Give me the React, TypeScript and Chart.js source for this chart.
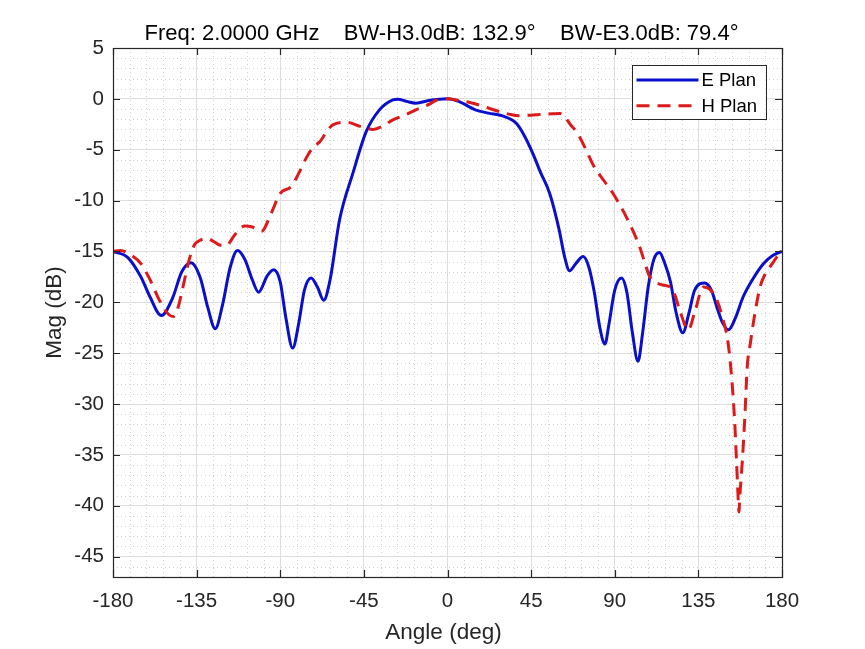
import React, { useEffect, useRef } from "react";
import { Chart, registerables } from "chart.js";

Chart.register(...registerables);

// ---- data ----
const eAngles = [
  -180, -172, -165, -160, -154, -148, -143, -138, -133, -129, -125, -121, -117, -113, -109, -105,
  -101.7, -97, -93.6, -90, -87, -83.3, -80, -77, -73.4, -70, -66.6, -63.2, -58.1, -50.9, -43.7,
  -36.6, -29.4, -26.7, -22, -17, -10, 0, 6, 15, 22, 30, 37, 41, 46, 50, 55, 60, 63, 65.7, 69, 73,
  76, 79, 82, 84.7, 87, 90, 93.6, 96.5, 99.5, 102.5, 105, 108, 111, 114, 117, 120, 123, 126.6,
  130, 133, 138.4, 142, 145, 148, 151.2, 155, 159, 164, 170, 175, 180,
];
const eMag = [
  -15, -15.6, -17.5, -19.5, -21.3, -19.6, -17, -16.1, -17.6, -20.5, -22.6, -20.2, -16.6, -14.9,
  -15.8, -17.8, -19.0, -17.4, -16.8, -18, -21.5, -24.5, -22, -18.8, -17.6, -18.5, -19.8, -17.8,
  -11.9, -7.3, -3.2, -1.08, -0.1, -0.03, -0.25, -0.42, -0.16, 0, -0.25, -1.08, -1.4, -1.7, -2.4,
  -3.5, -5.4, -7.2, -9.3, -12.8, -15.5, -16.9, -16.2, -15.5, -16.5, -19, -22.5, -24.1, -22, -18.8,
  -17.6, -19, -23, -25.8, -23, -18.5, -15.8, -15.1, -16.2, -18, -21, -23.0, -21, -18.8, -18.1,
  -18.8, -20.5, -22, -22.7, -21.5, -19.5, -17.8, -16.2, -15.4, -15,
];

const hAngles = [
  -180, -176, -170, -165, -160, -155, -150, -147.5, -145, -142, -139, -136, -133, -129.6, -126,
  -122, -119, -115, -112, -109, -105, -100, -95, -90, -84, -80, -76, -72, -68.6, -65, -61.7, -54,
  -47, -40, -35, -29.4, -23, -17, -10, -6.3, 0, 6.3, 12, 17, 22, 27.8, 33, 38.5, 43, 47.5, 52,
  56.4, 60.6, 63.6, 66, 69.7, 74, 78.4, 84, 89.1, 96.2, 103.3, 106, 108.6, 111, 115.7, 119.8,
  122, 125, 129.6, 133, 137.7, 141, 145, 148, 151, 153, 154.5, 155.5, 156.3, 156.8, 157.4, 158.7,
  160.1, 161.3, 163, 164.6, 168.2, 171, 174.4, 177, 180,
];
const hMag = [
  -15, -14.9, -15.4, -16.2, -17.8, -19.8, -21.2, -21.4, -20.5, -18.2, -15.8, -14.3, -13.9, -13.7,
  -14.0, -14.4, -14.4, -13.5, -12.8, -12.5, -12.6, -13.0, -11.3, -9.3, -8.6, -7.3, -5.8, -4.7,
  -4.2, -3.2, -2.55, -2.3, -2.7, -3.0, -2.7, -2.06, -1.6, -1.08, -0.55, -0.16, 0, -0.16, -0.35,
  -0.6, -0.9, -1.24, -1.5, -1.67, -1.62, -1.57, -1.5, -1.47, -1.45, -1.9, -2.5, -3.3, -4.8, -6.5,
  -8.0, -9.3, -11.6, -14.5, -16, -17.4, -17.9, -18.3, -18.5, -19.1, -20.8, -22.7, -21.0, -18.5,
  -18.7, -19.8, -21.5, -24, -27.6, -31.6, -35.5, -38.8, -40.6, -38.8, -35.5, -30.9, -26.3, -24,
  -22, -18.5, -17.2, -16.3, -15.6, -15,
];

const seriesNames = ["E Plan", "H Plan"];
const xTickValues = [-180, -135, -90, -45, 0, 45, 90, 135, 180];
const yTickValues = [5, 0, -5, -10, -15, -20, -25, -30, -35, -40, -45];
const titleText = "Freq: 2.0000 GHz    BW-H3.0dB: 132.9°    BW-E3.0dB: 79.4°";
const xLabel = "Angle (deg)";
const yLabel = "Mag (dB)";

// ---- styles ----
const FONT = '"Liberation Sans", Arial, Helvetica, sans-serif';
const AXIS_COLOR = "#262626";
const BLUE = "#0a0fcc";
const RED = "#dc1a1a";
const DASH = [13, 8];

const decor = {
  id: "decor",
  beforeDatasetsDraw(chart: any) {
    const { ctx, chartArea: a, scales } = chart;
    const x = scales.x;
    const y = scales.y;
    ctx.save();
    ctx.strokeStyle = "#d2d2d2";
    ctx.lineWidth = 1;
    ctx.setLineDash([1, 3]);
    for (let v = -180; v <= 180; v += 9) {
      if (v % 45 === 0) continue;
      const px = Math.round(x.getPixelForValue(v)) + 0.5;
      ctx.beginPath();
      ctx.moveTo(px, a.top);
      ctx.lineTo(px, a.bottom);
      ctx.stroke();
    }
    for (let v = -47; v <= 5; v += 1) {
      if (v % 5 === 0) continue;
      const py = Math.round(y.getPixelForValue(v)) + 0.5;
      ctx.beginPath();
      ctx.moveTo(a.left, py);
      ctx.lineTo(a.right, py);
      ctx.stroke();
    }
    ctx.restore();
  },
  afterDraw(chart: any) {
    const { ctx, chartArea: a, scales } = chart;
    const x = scales.x;
    const y = scales.y;
    ctx.save();
    // box
    ctx.strokeStyle = AXIS_COLOR;
    ctx.lineWidth = 1.2;
    ctx.setLineDash([]);
    ctx.strokeRect(Math.round(a.left) + 0.5, Math.round(a.top) + 0.5, Math.round(a.right - a.left), Math.round(a.bottom - a.top));
    // inward ticks
    const tl = 7;
    xTickValues.forEach((v) => {
      const px = Math.round(x.getPixelForValue(v)) + 0.5;
      ctx.beginPath();
      ctx.moveTo(px, a.bottom);
      ctx.lineTo(px, a.bottom - tl);
      ctx.moveTo(px, a.top);
      ctx.lineTo(px, a.top + tl);
      ctx.stroke();
    });
    yTickValues.forEach((v) => {
      const py = Math.round(y.getPixelForValue(v)) + 0.5;
      ctx.beginPath();
      ctx.moveTo(a.left, py);
      ctx.lineTo(a.left + tl, py);
      ctx.moveTo(a.right, py);
      ctx.lineTo(a.right - tl, py);
      ctx.stroke();
    });
    // title
    ctx.fillStyle = "#000";
    ctx.font = `22px ${FONT}`;
    ctx.textAlign = "center";
    ctx.textBaseline = "alphabetic";
    ctx.fillText(titleText, (a.left + a.right) / 2 - 6, 39.5);
    // axis labels
    ctx.fillStyle = AXIS_COLOR;
    ctx.font = `22.5px ${FONT}`;
    ctx.fillText(xLabel, (a.left + a.right) / 2 - 4, 638.5);
    ctx.save();
    ctx.translate(61, (a.top + a.bottom) / 2);
    ctx.rotate(-Math.PI / 2);
    ctx.fillText(yLabel, 0, 0);
    ctx.restore();
    // legend
    const lw = 134;
    const lh = 54;
    const lx = a.right - 16.5 - lw;
    const ly = a.top + 16.5;
    ctx.fillStyle = "#fff";
    ctx.fillRect(lx, ly, lw, lh);
    ctx.strokeStyle = AXIS_COLOR;
    ctx.lineWidth = 1;
    ctx.strokeRect(Math.round(lx) + 0.5, Math.round(ly) + 0.5, lw, lh);
    const rows = [
      { name: seriesNames[0], color: BLUE, dash: [] as number[] },
      { name: seriesNames[1], color: RED, dash: DASH },
    ];
    rows.forEach((r, i) => {
      const ry = ly + 15.5 + i * 25.7;
      ctx.strokeStyle = r.color;
      ctx.lineWidth = 3;
      ctx.setLineDash(r.dash);
      ctx.beginPath();
      ctx.moveTo(lx + 5, ry);
      ctx.lineTo(lx + 67, ry);
      ctx.stroke();
      ctx.setLineDash([]);
      ctx.fillStyle = "#000";
      ctx.font = `18.5px ${FONT}`;
      ctx.textAlign = "left";
      ctx.textBaseline = "middle";
      ctx.fillText(r.name, lx + 70, ry + 1);
    });
    ctx.restore();
  },
};

export default function App() {
  const canvasRef = useRef<HTMLCanvasElement | null>(null);

  useEffect(() => {
    const canvas = canvasRef.current;
    if (!canvas) return;
    const eData = eAngles.map((a, i) => ({ x: a, y: eMag[i] }));
    const hData = hAngles.map((a, i) => ({ x: a, y: hMag[i] }));
    const chart = new Chart(canvas, {
      type: "line",
      data: {
        datasets: [
          {
            label: seriesNames[0],
            data: eData,
            borderColor: BLUE,
            borderWidth: 3,
            pointRadius: 0,
            cubicInterpolationMode: "monotone",
            fill: false,
            order: 2,
          },
          {
            label: seriesNames[1],
            data: hData,
            borderColor: RED,
            borderWidth: 3,
            borderDash: DASH,
            pointRadius: 0,
            cubicInterpolationMode: "monotone",
            fill: false,
            order: 1,
          },
        ],
      },
      options: {
        animation: false,
        responsive: true,
        maintainAspectRatio: false,
        parsing: false as any,
        layout: { padding: { left: 0, right: 83, top: 48, bottom: 0 } },
        plugins: {
          legend: { display: false },
          title: { display: false },
          tooltip: { enabled: false },
        },
        events: [],
        scales: {
          x: {
            type: "linear",
            min: -180,
            max: 180,
            afterBuildTicks: (s: any) => {
              s.ticks = xTickValues.map((v) => ({ value: v }));
            },
            afterFit: (s: any) => {
              s.height = 72;
            },
            ticks: {
              font: { family: FONT, size: 20.5 },
              color: AXIS_COLOR,
              padding: 12,
              maxRotation: 0,
              autoSkip: false,
            },
            grid: { color: "#dedede", lineWidth: 1, drawTicks: false },
            border: { display: false },
          },
          y: {
            type: "linear",
            min: -47,
            max: 5,
            afterBuildTicks: (s: any) => {
              s.ticks = yTickValues.map((v) => ({ value: v }));
            },
            afterFit: (s: any) => {
              s.width = 113;
            },
            ticks: {
              font: { family: FONT, size: 20.5 },
              color: AXIS_COLOR,
              padding: 9,
              autoSkip: false,
            },
            grid: { color: "#dedede", lineWidth: 1, drawTicks: false },
            border: { display: false },
          },
        },
      },
      plugins: [decor],
    });
    return () => chart.destroy();
  }, []);

  return (
    <div style={{ position: "absolute", left: 0, top: 0, width: 865, height: 649, background: "#fff" }}>
      <canvas ref={canvasRef} />
    </div>
  );
}
